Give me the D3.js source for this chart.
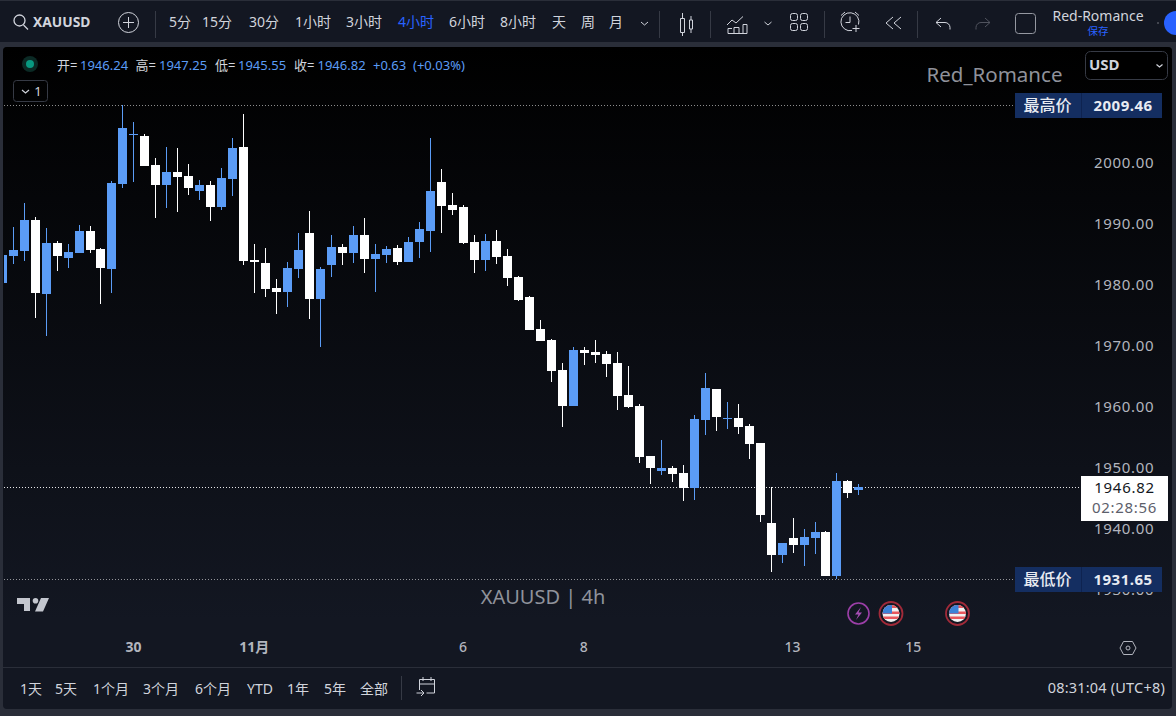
<!DOCTYPE html>
<html><head><meta charset="utf-8">
<script src="https://cdn.jsdelivr.net/npm/d3@7/dist/d3.min.js"></script>
<style>html,body{margin:0;padding:0;background:#2a2e39;overflow:hidden}svg{display:block}
text{font-family:"Noto Sans","Noto Sans CJK SC",sans-serif}</style></head><body>
<svg id="c" width="1176" height="716"></svg>
<script>
const opens=[1980.30,1984.74,1985.56,1990.65,1978.50,1986.87,1984.41,1985.23,1988.84,1985.89,1982.60,1996.56,2004.60,2004.44,1999.68,1996.39,1998.53,1997.87,1995.41,1996.39,1992.78,1997.38,2002.63,1984.08,1983.59,1979.48,
1978.82,1982.60,1988.51,1977.67,1983.25,1986.21,1985.22,1988.18,1984.24,1984.90,1986.05,1983.75,1987.03,1988.84,1996.88,1993.11,1992.78,1987.03,1984.08,1987.20,1984.73,1981.28,1978.00,1972.75,
1970.94,1966.01,1960.10,1969.30,1968.97,1968.64,1967.16,1961.91,1960.10,1951.89,1949.43,1949.92,1949.10,1946.58,1957.80,1962.89,1957.97,1958.13,1956.82,1954.02,1940.89,1935.63,1938.43,1937.28,1938.43,1939.41,1932.19,1947.79,1946.24];
const highs=[1985.20,1989.50,1993.44,1991.14,1989.33,1987.20,1986.71,1989.83,1989.66,1986.05,1997.05,2009.46,2006.74,2004.77,2000.83,2002.63,2002.47,1999.84,1997.21,1997.05,1999.19,2004.11,2008.05,1986.71,1986.05,1980.96,
1983.75,1988.51,1992.12,1982.93,1988.18,1986.70,1989.66,1990.97,1986.70,1986.37,1986.54,1987.85,1990.31,2004.11,1999.02,1995.08,1993.11,1988.18,1988.34,1989.00,1985.88,1981.45,1978.16,1974.22,
1971.10,1967.16,1969.79,1969.79,1970.94,1969.13,1968.97,1966.67,1960.43,1951.89,1954.52,1950.25,1950.41,1958.62,1965.52,1962.89,1960.76,1960.43,1957.15,1954.02,1946.80,1937.60,1941.71,1939.90,1941.05,1939.58,1949.10,1947.95,1947.25];
const lows=[1980.30,1983.42,1983.92,1974.56,1971.60,1982.27,1982.77,1985.23,1985.23,1976.86,1978.66,1995.90,1996.89,1999.51,1990.98,1992.62,1991.96,1994.75,1993.93,1990.48,1992.29,1994.59,1983.26,1978.66,1978.00,1975.21,
1976.36,1981.12,1974.39,1969.79,1981.28,1983.25,1983.58,1981.94,1978.82,1983.58,1983.25,1983.75,1984.40,1985.39,1988.51,1991.46,1986.70,1981.94,1982.27,1983.42,1979.81,1977.34,1972.58,1970.78,
1964.04,1956.65,1960.10,1966.83,1967.16,1964.86,1959.45,1959.77,1950.74,1947.30,1948.77,1947.62,1944.50,1944.67,1955.34,1956.00,1956.33,1955.51,1951.40,1941.05,1932.84,1934.32,1935.96,1933.83,1935.80,1932.19,1931.65,1944.99,1945.55];
const closes=[1984.90,1985.72,1990.65,1978.66,1986.87,1984.74,1985.39,1988.84,1985.72,1982.77,1996.72,2005.75,2004.77,1999.51,1996.39,1998.53,1997.71,1995.90,1996.39,1992.78,1997.54,2002.47,1983.92,1983.75,1979.32,1978.83,
1982.76,1985.72,1977.67,1982.60,1986.21,1985.22,1988.18,1984.24,1985.06,1985.88,1983.75,1987.03,1989.17,1995.40,1992.94,1992.28,1986.87,1984.08,1987.20,1984.57,1981.12,1977.51,1972.58,1970.78,
1965.85,1960.10,1969.30,1968.80,1968.48,1967.00,1961.74,1959.94,1951.73,1949.92,1949.92,1948.94,1946.58,1957.97,1963.06,1958.30,1958.13,1956.65,1953.86,1942.20,1935.63,1937.60,1937.28,1938.59,1939.41,1932.19,1947.79,1945.81,1946.82];
const priceTicks=[2000,1990,1980,1970,1960,1950,1940,1930];
const timeTickIndex=[12,23,42,53,72,83];
const timeTickLabels=["30","11月","6","8","13","15"];
const lastPrice=1946.82, highPrice=2009.46, lowPrice=1931.65;
const intervals=["5分","15分","30分","1小时","3小时","4小时","6小时","8小时","天","周","月"];
const ranges=["1天","5天","1个月","3个月","6个月","YTD","1年","5年","全部"];
const ohlcLabels=["开=","高=","低=","收="];
const ohlcValues=["1946.24","1947.25","1945.55","1946.82"];

const BLUE="#5b9cf6", WHITE="#ffffff", AXIS="#b2b5be", TXT="#d1d4dc", LABEL="#142e61";
const svg=d3.select("#c");
const x=d3.scaleLinear().domain([0,83]).range([2.122,913.877]);
const y=d3.scaleLinear().domain([1930,2000]).range([589.3,163]);
const px=i=>Math.floor(x(i));
const py=v=>Math.round(y(v));

const defs=svg.append("defs");
const g=defs.append("linearGradient").attr("id","bg").attr("x1",0).attr("x2",0).attr("y1",0).attr("y2",1);
g.append("stop").attr("offset","0").attr("stop-color","#000000");
g.append("stop").attr("offset","1").attr("stop-color","#131722");
defs.append("clipPath").attr("id","plot").append("rect").attr("x",4).attr("y",47).attr("width",1012).attr("height",620);

// frame, toolbars
svg.append("rect").attr("width",1176).attr("height",716).attr("fill","#2a2e39");
svg.append("rect").attr("y",1).attr("width",1176).attr("height",41).attr("fill","#131722");
svg.append("rect").attr("x",3).attr("y",47).attr("width",1169).attr("height",662).attr("rx",4).attr("fill","#131722");
svg.append("path").attr("d","M3 51a4 4 0 0 1 4-4H1168a4 4 0 0 1 4 4V620H3Z").attr("fill","url(#bg)");
svg.append("rect").attr("x",3).attr("y",667).attr("width",1169).attr("height",1).attr("fill","#2a2e39");

function label(t,xx,yy,o={}){
  return svg.append("text").attr("x",xx).attr("y",yy).attr("dy","0.35em").text(t)
    .attr("text-anchor",o.a||"middle").attr("font-size",o.s||13).attr("font-weight",o.w||400)
    .attr("fill",o.c||TXT).attr("letter-spacing",o.ls||0);
}
function stroke(d,c="#d1d4dc",w=1){return svg.append("path").attr("d",d).attr("fill","none").attr("stroke",c).attr("stroke-width",w);}
function vsep(xx,y1,y2){svg.append("rect").attr("x",xx).attr("y",y1).attr("width",1).attr("height",y2-y1).attr("fill","#363a45");}

// top toolbar
svg.append("circle").attr("cx",19.5).attr("cy",20.5).attr("r",5.5).attr("fill","none").attr("stroke",TXT).attr("stroke-width",1.3);
stroke("M23.5 25L28 29.5",TXT,1.3);
label("XAUUSD",33,22,{a:"start",w:700,s:13.8});
svg.append("circle").attr("cx",128.5).attr("cy",22.5).attr("r",10).attr("fill","none").attr("stroke",TXT);
stroke("M128.5 17V28M123 22.5H134");
vsep(155,11,38);
const intervalX=[180,217,264,313,364,416,467,518,559,588,616];
intervals.forEach((t,i)=>label(t,intervalX[i],22,{c:t==="4小时"?"#2962ff":TXT,s:14}));
stroke("M641 22l3.5 3 3.5-3");
vsep(659,11,38);
stroke("M680.5 18.5h4v14h-4zM682.5 13v5M682.5 33v3M689.5 20h3v9h-3zM691 16v4M691 29v4");
vsep(710,11,38);
stroke("M727 25l5-5 4 3 7-6.5M728 33.5h19v-9h-4v9M734 33.5v-6h5v6M728 33.5v-5h4");
stroke("M764.5 22l3.5 3 3.5-3");
[0,10].forEach(dx=>[0,10].forEach(dy=>svg.append("rect").attr("x",790.5+dx).attr("y",13.5+dy).attr("width",7).attr("height",7).attr("rx",2).attr("fill","none").attr("stroke",TXT)));
vsep(824,11,38);
stroke("M852 30.5A9 9 0 1 1 858.5 24.5M850 16.500v6h-4.500M841 15.500l4-3.500M859 15.500l-4-3.500M856 25v7M852.500 28.500h7");
stroke("M893 17l-7 6 7 6M901 17l-7 6 7 6");
vsep(917,11,38);
stroke("M941 18l-5 4.500 5 4.500M936 22.500h9a5 5 0 0 1 5 5v2");
stroke("M985 18l5 4.500-5 4.500M990 22.500h-9a5 5 0 0 0-5 5v2","#50535e");
svg.append("rect").attr("x",1015.500).attr("y",13.500).attr("width",20).attr("height",20).attr("rx",3).attr("fill","none").attr("stroke","#9598a1");
label("Red-Romance",1098,16.500,{s:14,c:TXT});
label("保存",1098,31,{s:10.500,c:"#2962ff"});
svg.append("circle").attr("cx",1158).attr("cy",23).attr("r",0.7).attr("fill","#9598a1");
svg.append("circle").attr("cx",1176).attr("cy",23).attr("r",12).attr("fill","#2962ff");

// reference lines
function dotted(v,x2,c,o){svg.append("line").attr("x1",4).attr("x2",x2).attr("y1",py(v)+.5).attr("y2",py(v)+.5)
  .attr("stroke",c).attr("stroke-opacity",o).attr("stroke-dasharray","1 2");}
dotted(highPrice,1015,"#ffffff",0.55);
dotted(lowPrice,1015,"#ffffff",0.55);
dotted(lastPrice,1081,"#ffffff",0.9);

// candles
const candles=svg.append("g").attr("clip-path","url(#plot)").attr("shape-rendering","crispEdges");
const data=d3.range(opens.length);
const col=i=>closes[i]>=opens[i]?BLUE:WHITE;
candles.selectAll("rect.w").data(data).join("rect").attr("class","w")
  .attr("x",px).attr("width",1).attr("y",i=>py(highs[i])).attr("height",i=>Math.max(1,py(lows[i])-py(highs[i]))).attr("fill",col);
candles.selectAll("rect.b").data(data).join("rect").attr("class","b")
  .attr("x",i=>px(i)-4).attr("width",9)
  .attr("y",i=>py(Math.max(opens[i],closes[i])))
  .attr("height",i=>Math.max(1,py(Math.min(opens[i],closes[i]))-py(Math.max(opens[i],closes[i])))).attr("fill",col);

// price axis
const yAxis=svg.append("g").attr("transform","translate(1094,0)")
  .call(d3.axisRight(y).tickValues(priceTicks).tickSize(0).tickPadding(0).tickFormat(d3.format(".2f")));
yAxis.select(".domain").remove();
yAxis.selectAll("text").attr("fill",AXIS).attr("font-size",15).attr("letter-spacing","0.7px")
  .style("font-family",'"Noto Sans","Noto Sans CJK SC",sans-serif');

// time axis
const xAxis=svg.append("g").attr("transform","translate(-1,647)")
  .call(d3.axisBottom(x).tickValues(timeTickIndex).tickSize(0).tickPadding(0)
    .tickFormat(d=>timeTickLabels[timeTickIndex.indexOf(d)]));
xAxis.select(".domain").remove();
xAxis.selectAll("text").attr("fill",AXIS).attr("font-size",14).attr("font-weight",d=>d===23||d===12?700:500).attr("dy","0.35em").attr("y",0)
  .style("font-family",'"Noto Sans","Noto Sans CJK SC",sans-serif');

// legend row
svg.append("circle").attr("cx",30).attr("cy",64).attr("r",8).attr("fill","#0b2a25");
svg.append("circle").attr("cx",30).attr("cy",64).attr("r",4).attr("fill","#089981");
const lx=[57,135.5,215,294], vx=[80,159,238,317.5];
ohlcLabels.forEach((t,i)=>{label(t,lx[i],65,{a:"start",s:13,c:TXT});label(ohlcValues[i],vx[i],65,{a:"start",s:13,c:BLUE});});
label("+0.63",373,65,{a:"start",s:13,c:BLUE});
label("(+0.03%)",413,65,{a:"start",s:13,c:BLUE});
svg.append("rect").attr("x",13.500).attr("y",80.500).attr("width",34).attr("height",21).attr("rx",3).attr("fill","none").attr("stroke","#363a45");
stroke("M22 90l3.500 3 3.500-3",TXT,1.2);
label("1",38,91,{s:13});

// USD + watermark
svg.append("rect").attr("x",1085.500).attr("y",51.500).attr("width",82).attr("height",28).attr("rx",5).attr("fill","#000").attr("stroke","#363a45");
label("USD",1089,65,{a:"start",s:15,w:700,c:"#d1d4dc"});
stroke("M1156.500 64.500l3 2.500 3-2.500",TXT,1.2);
label("Red_Romance",994.500,75,{s:20.500,c:"#8f929b"});
label("XAUUSD | 4h",543,597,{s:20,c:"#8f929b"});

// high / low tags
function tag(cn,v){
  const cy=py(v)+.5;
  svg.append("rect").attr("x",1015).attr("y",cy-12.500).attr("width",147).attr("height",25).attr("fill",LABEL);
  svg.append("rect").attr("x",1081).attr("y",cy-12.500).attr("width",1).attr("height",25).attr("fill","#0e2350");
  label(cn,1047.500,cy,{s:16,c:"#e8ebf2",w:500});
  label(d3.format(".2f")(v),1123,cy,{s:15,c:"#e8ebf2",w:700,ls:"0.5px"});
}
tag("最高价",highPrice); tag("最低价",lowPrice);

// last price tag
svg.append("rect").attr("x",1081).attr("y",476).attr("width",87).attr("height",45).attr("fill","#fff");
label(d3.format(".2f")(lastPrice),1124.500,488,{s:15,c:"#131722",ls:"0.7px"});
label("02:28:56",1124.500,508,{s:15,c:"#5d606b",ls:"0.7px"});

// TV logo
svg.append("path").attr("fill","#c3c6ce").attr("d","M17 598h13v13h-6v-7h-7zM41 598h8l-6 13.500h-8z");
svg.append("circle").attr("cx",35.500).attr("cy",600.800).attr("r",2.800).attr("fill","#c3c6ce");

// event icons
svg.append("circle").attr("cx",858.500).attr("cy",613.500).attr("r",10.500).attr("fill","#131722").attr("stroke","#9c3fa8").attr("stroke-width",1.600);
svg.append("path").attr("d","M861 607l-6 7.500h3.500l-2.500 5.500 6-7.500h-3.500z").attr("fill","#a74fb5");
function flag(cx){
  const cy=613.500;
  svg.append("circle").attr("cx",cx).attr("cy",cy).attr("r",11.500).attr("fill","#131722").attr("stroke","#a12a39").attr("stroke-width",1.800);
  const id="f"+String(cx).replace(".","_");
  defs.append("clipPath").attr("id",id).append("circle").attr("cx",cx).attr("cy",cy).attr("r",8.500);
  const f=svg.append("g").attr("clip-path",`url(#${id})`);
  f.append("rect").attr("x",cx-9).attr("y",cy-9).attr("width",18).attr("height",18).attr("fill","#f2f2f2");
  [-2,3].forEach(d=>f.append("rect").attr("x",cx-9).attr("y",cy+d).attr("width",18).attr("height",2.500).attr("fill","#e8575d"));
  f.append("rect").attr("x",cx-9).attr("y",cy-9).attr("width",18).attr("height",3.500).attr("fill","#e8575d");
  f.append("rect").attr("x",cx-9).attr("y",cy-9).attr("width",10).attr("height",9).attr("fill","#3c82d8");
}
flag(891); flag(957.500);

// settings hexagon
stroke("M1120 648l3.500-6.500h9l3.500 6.500-3.500 6.500h-9z","#b2b5be");
svg.append("circle").attr("cx",1128).attr("cy",648).attr("r",2).attr("fill","none").attr("stroke","#b2b5be");

// bottom toolbar
const rangeX=[31,66,111,161,213,260,298,335,374];
ranges.forEach((t,i)=>label(t,rangeX[i],689,{s:14}));
vsep(401,676,700);
stroke("M419.500 690v-10.500h15V693h-8M423 677v4M431 677v4M419.500 684h15M416.500 693h7M421 690l3 3-3 3");
label("08:31:04 (UTC+8)",1165,688,{a:"end",s:14.500,c:TXT,ls:"0.2px"});
</script></body></html>
